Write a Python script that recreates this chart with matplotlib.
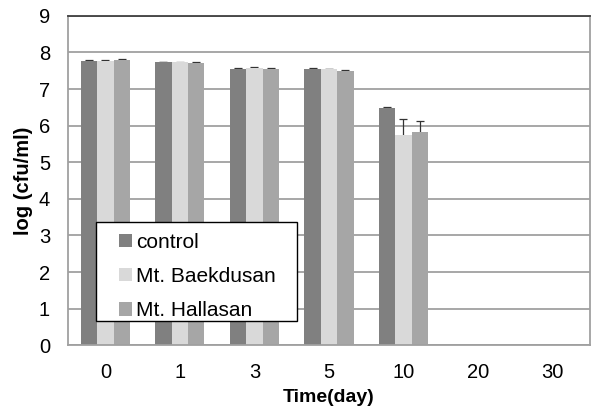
import matplotlib

matplotlib.use("Agg")

import matplotlib.pyplot as plt  # noqa: E402
import numpy as np  # noqa: E402
from matplotlib.patches import Rectangle  # noqa: E402

# ── Data ──────────────────────────────────────────────────────────────────────
days = ["0", "1", "3", "5", "10", "20", "30"]
control = [7.78, 7.74, 7.56, 7.56, 6.49, np.nan, np.nan]
baekdusan = [7.77, 7.73, 7.58, 7.55, 5.75, np.nan, np.nan]
hallasan = [7.79, 7.72, 7.56, 7.50, 5.83, np.nan, np.nan]
control_err = [0.01, 0.01, 0.01, 0.01, 0.01, 0, 0]
baekdusan_err = [0.02, 0.01, 0.01, 0.01, 0.42, 0, 0]
hallasan_err = [0.02, 0.02, 0.01, 0.02, 0.30, 0, 0]

series = [
    ("control", control, control_err, "#808080"),
    ("Mt. Baekdusan", baekdusan, baekdusan_err, "#d9d9d9"),
    ("Mt. Hallasan", hallasan, hallasan_err, "#a6a6a6"),
]

GRID = "#a0a0a0"

plt.rcParams.update({"font.family": ["Liberation Sans", "DejaVu Sans"]})

fig = plt.figure(figsize=(5.97, 4.08), dpi=100)
ax = fig.add_axes([0.114, 0.154, 0.874, 0.807])

x = np.arange(len(days))
w = 0.22
for i, (name, vals, err, col) in enumerate(series):
    pos = x + (i - 1) * w
    v = np.array(vals, dtype=float)
    ax.bar(pos, v, width=w, color=col, label=name, zorder=2)
    # Excel-style: symmetric bars, lower half hidden behind the column
    ax.errorbar(pos, v, yerr=err, fmt="none", ecolor="#333333",
                elinewidth=0.9, capsize=3, capthick=0.9, zorder=1.5)

ax.set_xlim(-0.5, len(days) - 0.5)
ax.set_ylim(0, 9)
ax.set_yticks(range(0, 10))
ax.set_xticks(x)
ax.set_xticklabels(days)
ax.tick_params(length=0, labelsize=14.5, colors="#000000")
ax.tick_params(axis="x", pad=13)
ax.tick_params(axis="y", pad=13)
ax.yaxis.grid(True, color=GRID, linewidth=1.3)
ax.set_axisbelow(True)
for sp in ("left", "bottom", "right"):
    ax.spines[sp].set_color(GRID)
    ax.spines[sp].set_linewidth(1.3)
ax.spines["top"].set_color("#404040")
ax.spines["top"].set_linewidth(1.3)

ax.set_xlabel("Time(day)", fontsize=14, fontweight="bold", labelpad=5)
ax.set_ylabel("log (cfu/ml)", fontsize=14.5, fontweight="bold", labelpad=4)

# legend box drawn by hand (Excel-like padding), entries frameless inside
ax.add_patch(Rectangle((0.0536, 0.073), 0.385, 0.301, transform=ax.transAxes,
                       facecolor="white", edgecolor="black", linewidth=1.0,
                       zorder=4))
leg = ax.legend(loc="upper left", bbox_to_anchor=(0.098, 0.342), fontsize=15,
                frameon=False, handlelength=0.6, handleheight=0.6,
                handletextpad=0.2, borderpad=0, labelspacing=0.74,
                borderaxespad=0)
leg.set_zorder(5)

fig.savefig("out.png", dpi=100)
